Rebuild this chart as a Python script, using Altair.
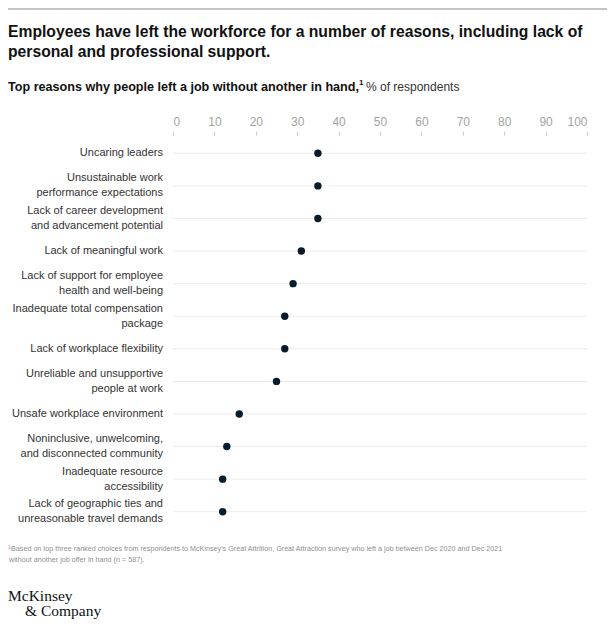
import altair as alt
import pandas as pd

reasons = [
    "Uncaring leaders",
    "Unsustainable work\nperformance expectations",
    "Lack of career development\nand advancement potential",
    "Lack of meaningful work",
    "Lack of support for employee\nhealth and well-being",
    "Inadequate total compensation\npackage",
    "Lack of workplace flexibility",
    "Unreliable and unsupportive\npeople at work",
    "Unsafe workplace environment",
    "Noninclusive, unwelcoming,\nand disconnected community",
    "Inadequate resource\naccessibility",
    "Lack of geographic ties and\nunreasonable travel demands",
]
values = [35, 35, 35, 31, 29, 27, 27, 25, 16, 13, 12, 12]
ticks = [0, 10, 20, 30, 40, 50, 60, 70, 80, 90, 100]

title_lines = [
    "Employees have left the workforce for a number of reasons, including lack of",
    "personal and professional support.",
]
subtitle_bold = "Top reasons why people left a job without another in hand,"
subtitle_sup = "1"
subtitle_rest = "% of respondents"
footnote_lines = [
    "Based on top three ranked choices from respondents to McKinsey\u2019s Great Attrition, Great Attraction survey who left a job between Dec 2020 and Dec 2021",
    "without another job offer in hand (n = 587).",
]
logo_lines = ["McKinsey", "& Company"]

FONT = "Liberation Sans"
NAVY = "#051C2C"

df = pd.DataFrame({"reason": reasons, "value": values})
df["lo"] = 0
df["hi"] = 100
df["multi"] = df["reason"].str.contains("\n")

W, H = 414, 391

yenc = alt.Y("reason:N", sort=reasons, axis=None,
             scale=alt.Scale(type="point", padding=0.5))

base = alt.Chart(df)

grid = base.mark_rule(color="#ececec", strokeWidth=1).encode(
    x=alt.X("lo:Q", scale=alt.Scale(domain=[0, 100], nice=False),
            axis=alt.Axis(orient="top", values=ticks, grid=False, domain=False,
                          tickSize=4, tickColor="#cccccc", tickWidth=1,
                          labelColor="#a3a3a3", labelFontSize=12, labelFont=FONT,
                          labelPadding=3, offset=2, title=None)),
    x2="hi:Q",
    y=yenc,
)

dots = base.mark_circle(color=NAVY, opacity=1, size=55).encode(
    x="value:Q", y=yenc,
)

label_style = dict(align="right", baseline="middle", lineBreak="\n",
                   font=FONT, fontSize=11, color="#333333", lineHeight=15)

ylabels_single = base.transform_filter("!datum.multi").mark_text(**label_style).encode(
    x=alt.value(-10), y=yenc, text="reason:N",
)
ylabels_multi = base.transform_filter("datum.multi").mark_text(dy=-7.5, **label_style).encode(
    x=alt.value(-10), y=yenc, text="reason:N",
)


def txt(s, x, y, font=FONT, **kw):
    return alt.Chart(pd.DataFrame({"t": [s]})).mark_text(
        align="left", baseline="middle", font=font, **kw
    ).encode(text="t:N", x=alt.value(x), y=alt.value(y))


top_line = alt.Chart(pd.DataFrame({"a": [0]})).mark_rule(
    color="#b0b0b0", strokeWidth=1.5).encode(
    x=alt.value(-165), x2=alt.value(434), y=alt.value(-128))

layers = [top_line, grid, dots, ylabels_single, ylabels_multi,
          txt(title_lines[0], -165, -105, fontSize=15.7, fontWeight="bold", color="#111111"),
          txt(title_lines[1], -165, -85, fontSize=15.7, fontWeight="bold", color="#111111"),
          txt(subtitle_bold, -165, -50, fontSize=12.6, fontWeight="bold", color="#111111"),
          txt(subtitle_sup, 186, -54, fontSize=8, fontWeight="bold", color="#111111"),
          txt(subtitle_rest, 193, -50, fontSize=12, color="#333333"),
          txt("1", -165, 410, fontSize=5, color="#999999"),
          txt(footnote_lines[0], -162, 412, fontSize=7.2, color="#8f8f8f"),
          txt(footnote_lines[1], -164, 423, fontSize=7.2, color="#8f8f8f"),
          txt(logo_lines[0], -165, 459, font="Liberation Serif", fontSize=15.5, color="#111111"),
          txt(logo_lines[1], -148, 474, font="Liberation Serif", fontSize=15.5, color="#111111"),
          ]

chart = alt.layer(*layers).properties(
    width=W, height=H,
    autosize=alt.AutoSizeParams(type="none"),
    padding={"left": 165, "top": 129, "right": 20, "bottom": 107},
).configure_view(stroke=None)

chart.save("out.html", embed_options={"renderer": "svg", "actions": False})
